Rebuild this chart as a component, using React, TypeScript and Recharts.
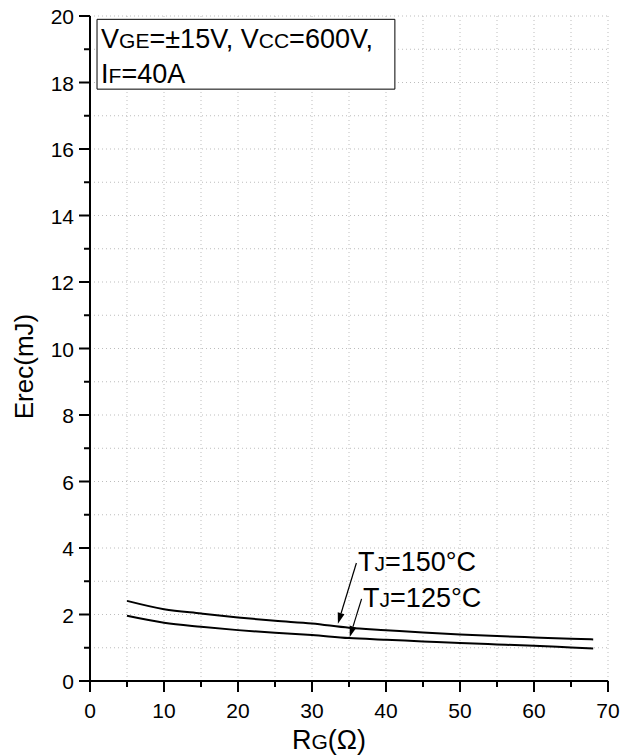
import {
  LineChart,
  Line,
  XAxis,
  YAxis,
  CartesianGrid,
  ReferenceArea,
  ReferenceDot,
  ReferenceLine,
} from "recharts";

const rg = [5, 10, 15, 20, 25, 30, 35, 40, 45, 50, 55, 60, 65, 68];
const erec150 = [2.41, 2.16, 2.03, 1.91, 1.81, 1.73, 1.6, 1.53, 1.46, 1.4, 1.35, 1.31, 1.27, 1.25];
const erec125 = [1.96, 1.75, 1.63, 1.53, 1.45, 1.38, 1.29, 1.24, 1.19, 1.14, 1.1, 1.06, 1.01, 0.98];

const xTicks = [0, 5, 10, 15, 20, 25, 30, 35, 40, 45, 50, 55, 60, 65, 70];
const yTicks = [0, 1, 2, 3, 4, 5, 6, 7, 8, 9, 10, 11, 12, 13, 14, 15, 16, 17, 18, 19, 20];

const data = rg.map((r, i) => ({ rg: r, t150: erec150[i], t125: erec125[i] }));

const FONT = "'Liberation Sans', Arial, sans-serif";
const SMALL = "0.78em";

function XTick({ x, y, payload }: any) {
  const v = payload.value;
  const major = v % 10 === 0;
  return (
    <g>
      <line x1={x} y1={y} x2={x} y2={y + (major ? 11 : 6)} stroke="#000" strokeWidth={2} />
      {major && (
        <text x={x} y={y + 37} textAnchor="middle" fontSize={21} fontFamily={FONT} fill="#000">
          {v}
        </text>
      )}
    </g>
  );
}

function YTick({ x, y, payload }: any) {
  const v = payload.value;
  const major = v % 2 === 0;
  return (
    <g>
      <line x1={x} y1={y} x2={x - (major ? 11 : 6)} y2={y} stroke="#000" strokeWidth={2} />
      {major && (
        <text x={x - 16} y={y + 8} textAnchor="end" fontSize={21} fontFamily={FONT} fill="#000">
          {v}
        </text>
      )}
    </g>
  );
}

function TopTick({ x, y }: any) {
  return <line x1={x} y1={y} x2={x} y2={y + 3} stroke="#000" strokeWidth={1} />;
}

function Arrow({ x1, y1, x2, y2 }: any) {
  const dx = x2 - x1;
  const dy = y2 - y1;
  const len = Math.sqrt(dx * dx + dy * dy);
  const ux = dx / len;
  const uy = dy / len;
  const hl = 11;
  const hw = 3.5;
  const bx = x2 - ux * hl;
  const by = y2 - uy * hl;
  return (
    <g>
      <line x1={x1} y1={y1} x2={bx} y2={by} stroke="#000" strokeWidth={1.2} />
      <polygon
        points={`${x2},${y2} ${bx - uy * hw},${by + ux * hw} ${bx + uy * hw},${by - ux * hw}`}
        fill="#000"
      />
    </g>
  );
}

function TjLabel(temp: string) {
  return ({ cx, cy }: any) => (
    <text x={cx} y={cy} fontSize={27} fontFamily={FONT} fill="#000">
      T<tspan fontSize={SMALL}>J</tspan>={temp}°C
    </text>
  );
}

function BoxText({ cx, cy }: any) {
  return (
    <text fontSize={27} fontFamily={FONT} fill="#000">
      <tspan x={cx} y={cy}>
        V<tspan fontSize={SMALL}>GE</tspan>=±15V, V<tspan fontSize={SMALL}>CC</tspan>=600V,
      </tspan>
      <tspan x={cx} y={cy + 35}>
        I<tspan fontSize={SMALL}>F</tspan>=40A
      </tspan>
    </text>
  );
}

function XTitle({ viewBox }: any) {
  const cx = viewBox.x + viewBox.width / 2 - 20;
  return (
    <text x={cx} y={viewBox.y + 68} textAnchor="middle" fontSize={27} fontFamily={FONT} fill="#000">
      R<tspan fontSize={SMALL}>G</tspan>(Ω)
    </text>
  );
}

function YTitle({ viewBox }: any) {
  const cx = viewBox.x + 33;
  const cy = viewBox.y + viewBox.height / 2 + 18;
  return (
    <text
      x={cx}
      y={cy}
      transform={`rotate(-90, ${cx}, ${cy})`}
      textAnchor="middle"
      fontSize={26}
      fontFamily={FONT}
      fill="#000"
    >
      Erec(mJ)
    </text>
  );
}

export default function App() {
  return (
    <div style={{ position: "absolute", left: 0, top: 0, background: "#fff" }}>
      <LineChart width={629} height={755} data={data} margin={{ top: 16, right: 21, left: 0, bottom: 0 }}>
        <CartesianGrid stroke="#bdbdbd" strokeDasharray="1 3" />
        <XAxis
          dataKey="rg"
          type="number"
          domain={[0, 70]}
          ticks={xTicks}
          interval={0}
          height={74}
          tickSize={0}
          tickMargin={0}
          tickLine={false}
          axisLine={{ stroke: "#000", strokeWidth: 2 }}
          tick={<XTick />}
          label={<XTitle />}
        />
        <XAxis
          xAxisId="top"
          orientation="top"
          type="number"
          domain={[0, 70]}
          ticks={xTicks}
          interval={0}
          height={0}
          tickSize={0}
          tickMargin={0}
          tickLine={false}
          axisLine={{ stroke: "#000", strokeWidth: 2 }}
          tick={<TopTick />}
        />
        <YAxis
          type="number"
          domain={[0, 20]}
          ticks={yTicks}
          interval={0}
          width={90}
          tickSize={0}
          tickMargin={0}
          tickLine={false}
          axisLine={{ stroke: "#000", strokeWidth: 2 }}
          tick={<YTick />}
          label={<YTitle />}
        />
        <YAxis
          yAxisId="right"
          orientation="right"
          type="number"
          domain={[0, 20]}
          width={0}
          tick={false}
          tickLine={false}
          axisLine={{ stroke: "#000", strokeWidth: 2 }}
        />
        <ReferenceArea
          x1={0.95}
          x2={41.2}
          y1={17.8}
          y2={19.9}
          fill="#fff"
          fillOpacity={1}
          stroke="#000"
          strokeWidth={1}
        />
        <ReferenceDot x={1.5} y={19.04} r={0} shape={BoxText} />
        <Line
          dataKey="t150"
          type="monotone"
          stroke="#000"
          strokeWidth={2}
          dot={false}
          isAnimationActive={false}
        />
        <Line
          dataKey="t125"
          type="monotone"
          stroke="#000"
          strokeWidth={2}
          dot={false}
          isAnimationActive={false}
        />
        <ReferenceLine
          segment={[
            { x: 36.0, y: 3.55 },
            { x: 33.5, y: 1.72 },
          ]}
          shape={Arrow}
        />
        <ReferenceLine
          segment={[
            { x: 36.7, y: 2.47 },
            { x: 35.1, y: 1.32 },
          ]}
          shape={Arrow}
        />
        <ReferenceDot x={36.2} y={3.31} r={0} shape={TjLabel("150")} />
        <ReferenceDot x={36.9} y={2.23} r={0} shape={TjLabel("125")} />
      </LineChart>
    </div>
  );
}
